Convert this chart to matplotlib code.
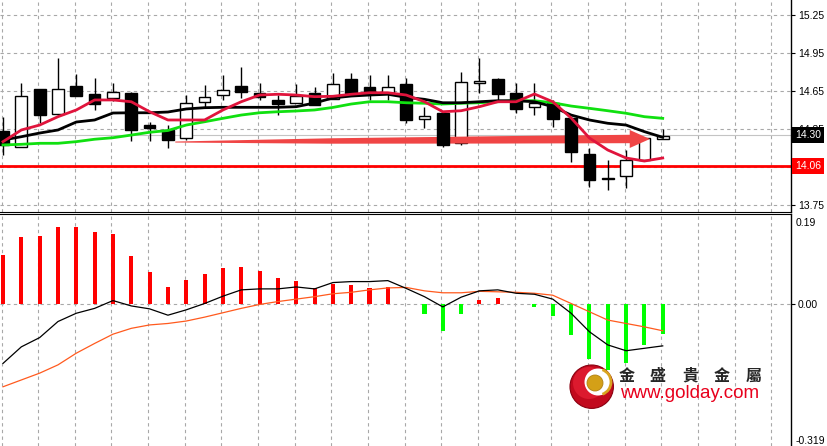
import matplotlib
matplotlib.use("Agg")
import matplotlib.pyplot as plt
from matplotlib.patches import Polygon, Circle, Arc
from matplotlib.transforms import blended_transform_factory
import numpy as np

# price candles
opens = [14.334, 14.210, 14.666, 14.468, 14.689, 14.626, 14.595, 14.634, 14.381, 14.342,
         14.279, 14.565, 14.618, 14.689, 14.636, 14.579, 14.555, 14.634, 14.587, 14.744,
         14.681, 14.634, 14.705, 14.431, 14.476, 14.239, 14.710, 14.744, 14.634, 14.523,
         14.555, 14.437, 14.153, 13.963, 13.979, 14.105, 14.271]
highs = [14.445, 14.713, 14.666, 14.910, 14.784, 14.752, 14.713, 14.640, 14.405, 14.381,
         14.618, 14.697, 14.776, 14.839, 14.715, 14.618, 14.705, 14.681, 14.794, 14.794,
         14.776, 14.776, 14.752, 14.526, 14.484, 14.802, 14.910, 14.752, 14.713, 14.713,
         14.579, 14.445, 14.200, 14.105, 14.184, 14.280, 14.350]
lows = [14.145, 14.208, 14.397, 14.460, 14.610, 14.500, 14.571, 14.255, 14.255, 14.200,
        14.263, 14.526, 14.579, 14.595, 14.579, 14.460, 14.555, 14.539, 14.587, 14.618,
        14.579, 14.579, 14.397, 14.358, 14.208, 14.224, 14.634, 14.563, 14.476, 14.460,
        14.366, 14.089, 13.892, 13.868, 13.884, 14.105, 14.271]
closes = [14.224, 14.613, 14.460, 14.666, 14.610, 14.547, 14.642, 14.342, 14.358, 14.263,
          14.555, 14.605, 14.658, 14.640, 14.600, 14.547, 14.610, 14.539, 14.705, 14.634,
          14.634, 14.681, 14.421, 14.452, 14.224, 14.723, 14.731, 14.626, 14.508, 14.555,
          14.429, 14.168, 13.947, 13.959, 14.105, 14.279, 14.295]

# moving averages
ma_red = [14.250, 14.342, 14.381, 14.447, 14.500, 14.579, 14.579, 14.565, 14.486, 14.421,
          14.421, 14.421, 14.500, 14.565, 14.618, 14.624, 14.618, 14.605, 14.608, 14.624,
          14.636, 14.636, 14.618, 14.565, 14.486, 14.494, 14.526, 14.565, 14.565, 14.626,
          14.565, 14.437, 14.279, 14.184, 14.121, 14.097, 14.121]
ma_black = [14.263, 14.289, 14.318, 14.342, 14.405, 14.421, 14.476, 14.478, 14.478, 14.484,
            14.508, 14.518, 14.521, 14.521, 14.521, 14.521, 14.526, 14.555, 14.595, 14.610,
            14.618, 14.624, 14.600, 14.584, 14.557, 14.557, 14.565, 14.573, 14.573, 14.565,
            14.526, 14.460, 14.421, 14.395, 14.381, 14.329, 14.284]
ma_green = [14.224, 14.229, 14.237, 14.237, 14.250, 14.269, 14.281, 14.302, 14.324, 14.338,
            14.381, 14.407, 14.434, 14.460, 14.478, 14.486, 14.492, 14.500, 14.520, 14.547,
            14.565, 14.565, 14.557, 14.553, 14.547, 14.553, 14.557, 14.565, 14.573, 14.573,
            14.557, 14.531, 14.513, 14.494, 14.474, 14.447, 14.434]

# MACD panel
hist = [0.099, 0.137, 0.139, 0.157, 0.157, 0.146, 0.142, 0.097, 0.064, 0.033,
        0.048, 0.060, 0.073, 0.075, 0.066, 0.052, 0.047, 0.031, 0.041, 0.038,
        0.031, 0.033, -0.002, -0.021, -0.057, -0.021, 0.008, 0.012, -0.001, -0.008,
        -0.026, -0.065, -0.113, -0.136, -0.123, -0.086, -0.062]
macd_line = [-0.123, -0.089, -0.070, -0.037, -0.020, -0.010, 0.006, -0.005, -0.011, -0.024,
             -0.013, 0.000, 0.015, 0.028, 0.030, 0.030, 0.034, 0.030, 0.043, 0.045,
             0.045, 0.047, 0.031, 0.014, -0.007, 0.013, 0.026, 0.028, 0.021, 0.019,
             0.009, -0.020, -0.058, -0.085, -0.097, -0.092, -0.087]
signal_line = [-0.171, -0.157, -0.143, -0.126, -0.102, -0.082, -0.063, -0.051, -0.044, -0.041,
               -0.036, -0.028, -0.019, -0.010, -0.002, 0.004, 0.009, 0.014, 0.020, 0.023,
               0.028, 0.032, 0.033, 0.026, 0.022, 0.022, 0.025, 0.024, 0.023, 0.021,
               0.017, 0.000, -0.017, -0.034, -0.041, -0.048, -0.056]

price_ticks = [13.75, 14.05, 14.35, 14.65, 14.95, 15.25]
last_price = 14.30
support = 14.06
macd_top_label = "0.19"
macd_bottom_label = "-0.319"

# arrow drawn on the chart (candle index, price)
arrow_tail = (9.4, 14.247)
arrow_neck = (34.2, 14.271)
arrow_tip = (35.3, 14.271)

W, H = 827, 446
fig = plt.figure(figsize=(W / 100, H / 100), dpi=100)
fig.patch.set_facecolor("white")

ax1 = fig.add_axes([0, (H - 211.5) / H, 791 / W, 211.5 / H])
ax2 = fig.add_axes([0, 0, 791 / W, 232.5 / H])

x = np.arange(len(opens))
xlim = (-0.164, 43.0)
grid_x = np.arange(-0.08, 43, 2)
gcol = "#a8a8a8"
px = 1 / 126.7  # price per pixel in the top panel

for ax in (ax1, ax2):
    ax.set_xlim(*xlim)
    ax.set_xticks(grid_x)
    ax.tick_params(axis="x", length=0, labelbottom=False)
    ax.grid(axis="x", color=gcol, linestyle=(0, (3, 3)), linewidth=0.8)
    ax.set_axisbelow(True)
    for s in ("left", "top", "bottom"):
        ax.spines[s].set_visible(False)
    ax.spines["right"].set_linewidth(1)
    ax.yaxis.tick_right()
    ax.tick_params(axis="y", direction="out", length=3, width=0.8, pad=2,
                   labelsize=7.5, labelfontfamily="Liberation Sans", colors="black")

ax1.spines["bottom"].set_visible(True)
ax2.spines["top"].set_visible(True)

# --- top panel
ax1.set_ylim(13.75 - 6.5 * px, 13.75 + 205 * px)
ax1.set_yticks(price_ticks)
ax1.set_yticklabels(["%.2f" % t for t in price_ticks])
ax1.grid(axis="y", color=gcol, linestyle=(0, (3, 3)), linewidth=0.8)

ax1.axhline(last_price, color="#c4c4c4", linewidth=0.8, zorder=1)
ax1.axhline(support, color="#ff0000", linewidth=2, zorder=1.2)

o = np.array(opens); c = np.array(closes)
up = c >= o
bw = 0.64
ax1.vlines(x, lows, highs, color="black", linewidth=1, zorder=2)
body_lo = np.minimum(o, c)
body_h = np.maximum(np.abs(c - o), 0.002)
ax1.bar(x[up], body_h[up], bottom=body_lo[up], width=bw, color="white",
        edgecolor="black", linewidth=1, zorder=2.2)

# tapered arrow
half = [0.5, 2.7, 3.7, 4.2]
xs = [arrow_tail[0], 17.8, 27.1, arrow_neck[0]]
ys = np.interp(xs, [arrow_tail[0], arrow_neck[0]], [arrow_tail[1], arrow_neck[1]])
pts = [(xx, yy + h * px) for xx, yy, h in zip(xs, ys, half)]
pts += [(arrow_neck[0], arrow_neck[1] + 9 * px), arrow_tip,
        (arrow_neck[0], arrow_neck[1] - 9 * px)]
pts += [(xx, yy - h * px) for xx, yy, h in zip(xs[::-1], ys[::-1], half[::-1])]
ax1.add_patch(Polygon(pts, closed=True, facecolor="#f04545", edgecolor="none", zorder=2.5))

ax1.bar(x[~up], body_h[~up], bottom=body_lo[~up], width=bw, color="black",
        edgecolor="black", linewidth=1, zorder=2.7)

ax1.plot(x, ma_green, color="#10e010", linewidth=2, zorder=3)
ax1.plot(x, ma_black, color="black", linewidth=2, zorder=3.1)
ax1.plot(x, ma_red, color="#e0143c", linewidth=2, zorder=3.2)

tr = blended_transform_factory(ax1.transAxes, ax1.transData)
lx = 1 + 4 / 791
ax1.text(lx, last_price, "%.2f" % last_price, transform=tr, ha="left", va="center",
         color="white", fontsize=7.5, family="Liberation Sans", clip_on=False, zorder=10,
         bbox=dict(boxstyle="square,pad=0.3", fc="black", ec="none"))
ax1.text(lx, support, "%.2f" % support, transform=tr, ha="left", va="center",
         color="white", fontsize=7.5, family="Liberation Sans", clip_on=False, zorder=10,
         bbox=dict(boxstyle="square,pad=0.3", fc="#ff0000", ec="none"))

# --- bottom panel
k = 487.0
ax2.set_ylim(-142.5 / k, 90 / k)
ax2.set_yticks([0.0])
ax2.set_yticklabels(["0.00"])
ax2.grid(axis="y", color=gcol, linestyle=(0, (3, 3)), linewidth=0.8)
hv = np.array(hist)
cols = np.where(hv >= 0, "#ff0000", "#00ff00")
ax2.bar(x, hv, width=0.22, color=cols, linewidth=0, zorder=2)
ax2.plot(x, signal_line, color="#ff5a1e", linewidth=0.9, zorder=3)
ax2.plot(x, macd_line, color="black", linewidth=0.9, zorder=3.1)
ax2.text(1 + 5 / 791, 1 - 9 / 232.5, macd_top_label, transform=ax2.transAxes,
         ha="left", va="center", fontsize=7.5, family="Liberation Sans", clip_on=False)
ax2.text(1 + 5 / 791, 1 - 228 / 232.5, macd_bottom_label, transform=ax2.transAxes,
         ha="left", va="center", fontsize=7.5, family="Liberation Sans", clip_on=False)

# --- logo (pixel coordinates of the image)
lg = fig.add_axes([560 / W, (H - 415) / H, 220 / W, 60 / H])
lg.set_xlim(560, 780)
lg.set_ylim(415, 355)
lg.axis("off")
lg.patch.set_alpha(0)
lg.add_patch(Circle((591.7, 386.7), 21.7, facecolor="#c20a1e", edgecolor="#8a0010", linewidth=0.8))
lg.add_patch(Circle((589, 383), 16, facecolor="#dc1a2e", edgecolor="none"))
lg.add_patch(Circle((598, 382), 13.5, facecolor="white", edgecolor="none"))
lg.add_patch(Arc((598, 382), 26, 26, theta1=-70, theta2=70, color="#d9a520", linewidth=2))
lg.add_patch(Circle((595, 383), 8, facecolor="#d4a017", edgecolor="#b08010", linewidth=0.6))
for cx, ch in zip([626.7, 658, 690, 721.7, 753.3], "金盛貴金屬"):
    lg.text(cx, 376, ch, ha="center", va="center", fontsize=11.5, color="#262626",
            fontweight="bold", family=["Noto Sans CJK TC", "DejaVu Sans"])
lg.text(690, 394, "www.golday.com", ha="center", va="center", fontsize=13.5,
        color="#e8001c", family="Liberation Sans")

fig.savefig("out.png", dpi=100, facecolor="white")
